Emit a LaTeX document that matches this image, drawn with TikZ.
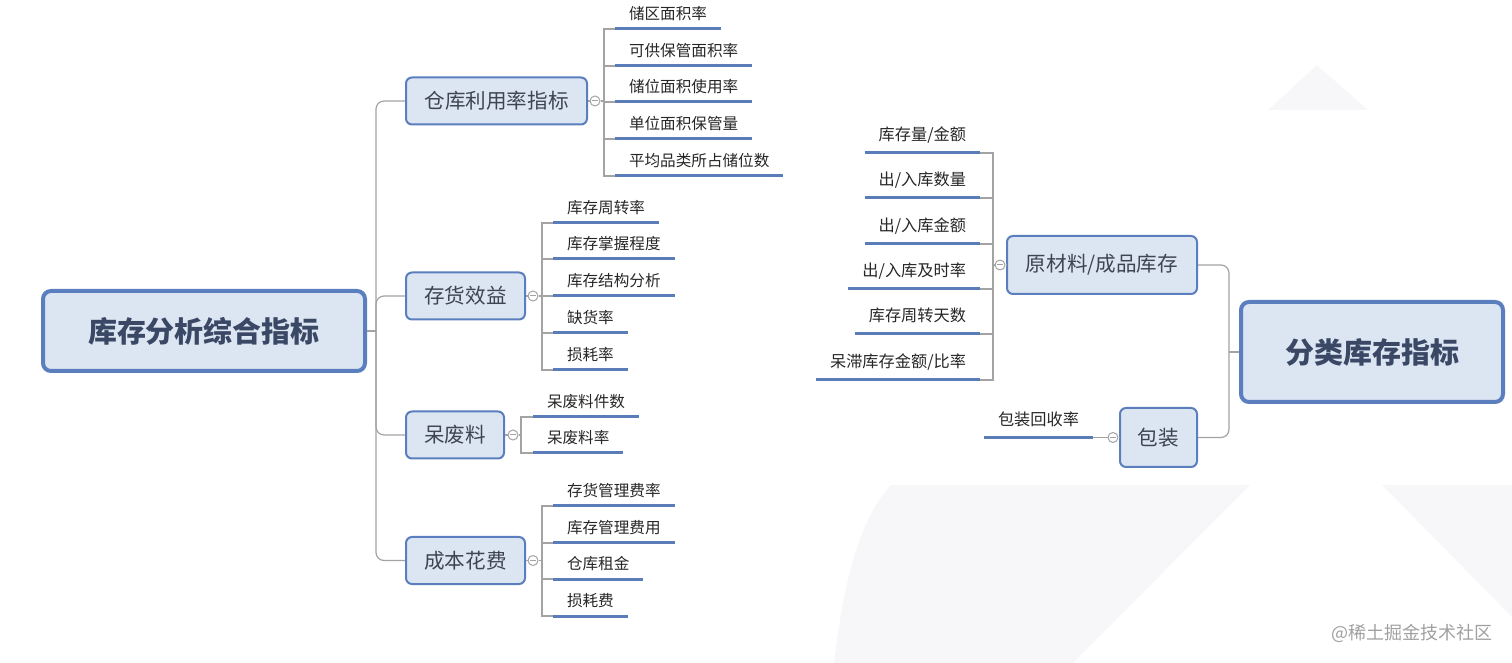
\documentclass[tikz,border=0pt]{standalone}
\usepackage{fontspec}
\usepackage{tikz}
\usetikzlibrary{positioning,calc}
\newfontfamily\cjk{Noto Sans CJK SC}
\definecolor{invedge} {HTML}{5B7FBE}
\definecolor{invfill} {HTML}{DCE6F2}
\definecolor{invlink} {HTML}{A3A3A3}
\definecolor{invline} {HTML}{5A7DB9}
\definecolor{invhead} {HTML}{3A4866}
\definecolor{invtopic}{HTML}{3E4452}
\definecolor{invink}  {HTML}{262626}
\definecolor{invhaze} {HTML}{F7F7F9}
\definecolor{invmark} {HTML}{A0A0A0}

\begin{document}
\begin{tikzpicture}[
  x=0.5pt, y=-0.5pt,
  hub/.style={draw=invedge, fill=invfill, line width=2pt, rounded corners=4pt,
              inner sep=0pt, text=invhead,
              font=\cjk\bfseries\fontsize{14.5pt}{17pt}\selectfont},
  topic/.style={draw=invedge, fill=invfill, line width=1pt, rounded corners=3pt,
                inner sep=0pt, minimum height=23.5pt, text=invtopic,
                font=\cjk\fontsize{10.3pt}{12pt}\selectfont},
  leaf/.style={anchor=south west, inner xsep=6.8pt, inner ysep=3pt,
               text height=6.5pt, text depth=1.5pt, text=invink,
               font=\cjk\fontsize{7.8pt}{9pt}\selectfont},
  rleaf/.style={leaf, anchor=south east, inner ysep=4.5pt,
                font=\cjk\fontsize{8.1pt}{9pt}\selectfont},
  fold/.style={circle, draw=invlink, fill=white, line width=0.5pt,
               minimum size=5pt, inner sep=0pt,
               path picture={\draw[invlink, line width=0.5pt]
                 ([xshift=-1.3pt]path picture bounding box.center) --
                 ([xshift=1.3pt]path picture bounding box.center);}},
  link/.style={draw=invlink, line width=0.6pt},
  elbow/.style={link, rounded corners=4pt},
  uline/.style={draw=invline, line width=1.5pt},
]
  \useasboundingbox (0,0) rectangle (1512,663);

  % Faint backdrop shapes behind the right half.
  \fill[invhaze] (834,663) .. controls (846,560) and (866,512) .. (891,485)
    -- (1250,485) -- (1073,663) -- cycle;
  \fill[invhaze] (1382,485) -- (1512,485) -- (1512,617) -- cycle;
  \fill[invhaze] (1268,110) -- (1317,65) -- (1368,110) -- cycle;

  % The two hubs.
  \node[hub, minimum width=161pt, minimum height=40pt] (stock) at (204,331) {库存分析综合指标};
  \node[hub, minimum width=131pt, minimum height=50pt] (sort)  at (1372,352) {分类库存指标};

  % Topics.
  \node[topic, minimum width=90.5pt] (util)  at (496.5,101) {仓库利用率指标};
  \node[topic, minimum width=59.5pt] (gain)  at (465.5,296) {存货效益};
  \node[topic, minimum width=49pt]   (scrap) at (455,435)   {呆废料};
  \node[topic, minimum width=59.5pt] (cost)  at (465.5,560.5) {成本花费};
  \node[topic, minimum width=95pt, minimum height=29pt]   (goods) at (1102,265)   {原材料/成品库存};
  \node[topic, minimum width=38.5pt, minimum height=29.5pt] (pack) at (1158.5,437.5) {包装};

  % Collapse marks and the points where leaf stems split.
  \foreach \f/\x/\y in {f1/595/101, f2/533/296, f3/513/435, f4/533/560.5,
                        f5/1000/265, f6/1113/437.5}
    { \node[fold] (\f) at (\x,\y) {}; }
  \coordinate (j1) at (604,101);
  \coordinate (j2) at (542,296);
  \coordinate (j3) at (521,435);
  \coordinate (j4) at (542,560.5);
  \coordinate (j5) at (993,265);

  % Hub stems.
  \coordinate (tL) at (376,331);
  \coordinate (tR) at (1229,352);
  \draw[link] (stock.east) -- (tL);
  \foreach \b in {util,gain,scrap,cost}
    { \draw[elbow] (tL) |- (\b.west); }
  \draw[link] (sort.west) -- (tR);
  \foreach \b in {goods,pack}
    { \draw[elbow] (tR) |- (\b.east); }

  % Topic to fold to split point.
  \foreach \b/\f/\j in {util/f1/j1, gain/f2/j2, scrap/f3/j3, cost/f4/j4, goods/f5/j5}
    { \draw[link] (\b) -- (\f) -- (\j); }
  \draw[link] (pack) -- (f6);

  % Left leaves, underlined.
  \foreach \n/\t/\x/\y/\j in {a1/储区面积率/615/29/j1, a2/可供保管面积率/615/66/j1,
      a3/储位面积使用率/615/102/j1, a4/单位面积保管量/615/139/j1,
      a5/平均品类所占储位数/615/176/j1,
      b1/库存周转率/553/223/j2, b2/库存掌握程度/553/259/j2,
      b3/库存结构分析/553/296/j2, b4/缺货率/553/333/j2, b5/损耗率/553/370/j2,
      c1/呆废料件数/533/417/j3, c2/呆废料率/533/453/j3,
      d1/存货管理费率/553/506/j4, d2/库存管理费用/553/543/j4,
      d3/仓库租金/553/579/j4, d4/损耗费/553/616/j4}
    { \node[leaf] (\n) at (\x,\y) {\t};
      \draw[uline] (\n.south west) -- (\n.south east);
      \draw[link] (\j) |- (\n.south west); }

  % Right leaves, hung from their right ends.
  \foreach \n/\t/\y in {e1/{库存量/金额}/153, e2/{出/入库数量}/198,
      e3/{出/入库金额}/244, e4/{出/入库及时率}/289, e5/库存周转天数/334,
      e6/{呆滞库存金额/比率}/380}
    { \node[rleaf] (\n) at (980,\y) {\t};
      \draw[uline] (\n.south west) -- (\n.south east);
      \draw[link] (j5) |- (\n.south east); }
  \node[rleaf] (g1) at (1093,437.5) {包装回收率};
  \draw[uline] (g1.south west) -- (g1.south east);
  \draw[link] (g1.south east) -- (f6);

  \node[text=invmark, font=\cjk\fontsize{9pt}{10pt}\selectfont] (mark) at (1412,633) {@稀土掘金技术社区};
\end{tikzpicture}
\end{document}
